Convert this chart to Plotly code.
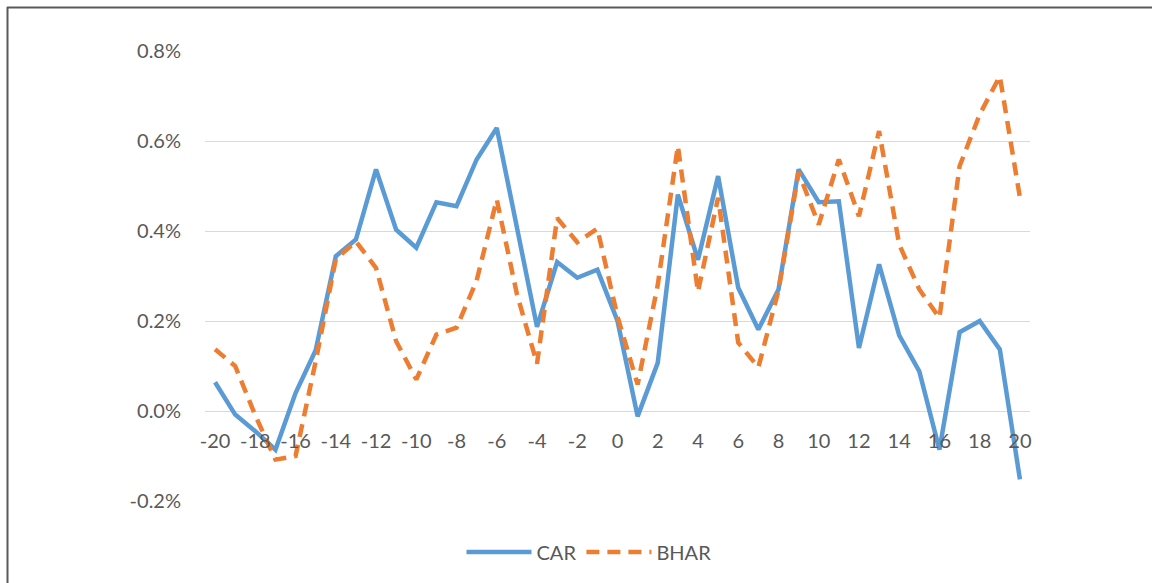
import plotly.graph_objects as go

# Event days
days = list(range(-20, 21))

# Cumulative abnormal returns (%)
car = [0.064, -0.008, -0.045, -0.086, 0.040, 0.135, 0.344, 0.381, 0.537, 0.403,
       0.363, 0.464, 0.455, 0.559, 0.629, 0.405, 0.187, 0.331, 0.296, 0.314,
       0.200, -0.012, 0.107, 0.481, 0.336, 0.522, 0.274, 0.181, 0.270, 0.537,
       0.464, 0.466, 0.140, 0.326, 0.168, 0.088, -0.086, 0.175, 0.200, 0.137,
       -0.152]

# Buy-and-hold abnormal returns (%)
bhar = [0.137, 0.100, -0.010, -0.108, -0.100, 0.110, 0.337, 0.377, 0.318, 0.155,
        0.070, 0.170, 0.185, 0.290, 0.470, 0.260, 0.105, 0.429, 0.375, 0.405,
        0.210, 0.059, 0.280, 0.589, 0.265, 0.474, 0.152, 0.097, 0.268, 0.530,
        0.414, 0.559, 0.433, 0.622, 0.370, 0.270, 0.207, 0.544, 0.659, 0.744,
        0.474]

x_ticks = list(range(-20, 21, 2))
x_labels = [str(v) for v in x_ticks]          # plain hyphen minus, as in the original
y_ticks = [-0.2, 0.0, 0.2, 0.4, 0.6, 0.8]
y_labels = [f"{v:.1f}%" for v in y_ticks]

FONT = "Lato"
TXT = "#595959"
FS = 20

fig = go.Figure()
fig.add_trace(go.Scatter(x=days, y=car, name="CAR", mode="lines",
                         line=dict(color="#5B9BD5", width=4.5)))
fig.add_trace(go.Scatter(x=days, y=bhar, name="BHAR", mode="lines",
                         line=dict(color="#ED7D31", width=4.5, dash="13px,8px")))

L, R, T, B = 205, 122, 51, 82
W, H = 1152, 583
pw, ph = W - L - R, H - T - B

def px_x(p):
    return (p - L) / pw

def px_y(p):
    return (H - B - p) / ph

fig.update_layout(
    width=W, height=H,
    margin=dict(l=L, r=R, t=T, b=B),
    paper_bgcolor="white", plot_bgcolor="white",
    font=dict(family=FONT, size=FS, color=TXT),
    xaxis=dict(range=[-20.5, 20.5], tickvals=x_ticks, ticktext=x_labels,
               showgrid=False, zeroline=False, showline=False, ticks="",
               anchor="free", position=0.2, ticklabelstandoff=16,
               tickfont=dict(family=FONT, size=FS, color=TXT)),
    yaxis=dict(range=[-0.2, 0.8], tickvals=y_ticks, ticktext=y_labels,
               showgrid=True, gridcolor="#D9D9D9", gridwidth=1.2,
               zeroline=False, showline=False, ticks="",
               ticklabelstandoff=23,
               tickfont=dict(family=FONT, size=FS, color=TXT)),
    legend=dict(orientation="h", x=px_x(589), xanchor="center",
                y=px_y(552), yanchor="middle", itemwidth=65,
                font=dict(family=FONT, size=FS, color=TXT),
                bgcolor="rgba(0,0,0,0)"),
    showlegend=True,
    shapes=[
        dict(type="line", xref="paper", yref="paper",
             x0=px_x(7), x1=px_x(1152), y0=px_y(7.5), y1=px_y(7.5),
             line=dict(color="#5A5A5A", width=2)),
        dict(type="line", xref="paper", yref="paper",
             x0=px_x(7.5), x1=px_x(7.5), y0=px_y(7), y1=px_y(583),
             line=dict(color="#5A5A5A", width=2)),
    ],
)

fig.write_html(
    "out.html",
    config={"displayModeBar": False},
    post_script="document.body.style.margin='0';document.body.style.overflow='hidden';",
)
